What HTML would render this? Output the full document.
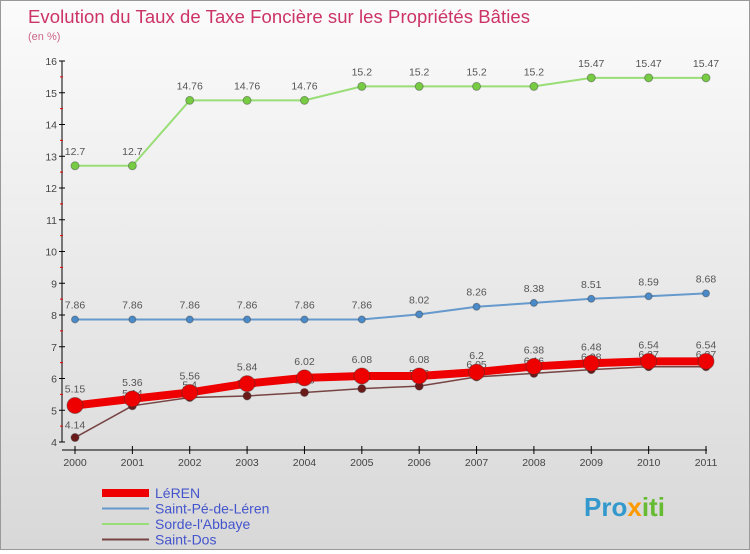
<!DOCTYPE html>
<html><head><meta charset="utf-8"><style>
body{margin:0;width:750px;height:550px;overflow:hidden;font-family:"Liberation Sans",sans-serif}
#wrap{position:relative;width:748px;height:548px;border:1px solid #999;background:linear-gradient(#fbfbfb,#d8d8d8)}
</style></head><body>
<div id="wrap">
<svg id="chart" width="748" height="548">
<text x="27" y="22" font-size="18.5" fill="#cc3366" textLength="502">Evolution du Taux de Taxe Foncière sur les Propriétés Bâties</text>
<text x="27" y="39" font-size="11" fill="#cc6688">(en %)</text>
<g id="axes"></g><g id="series"></g><g id="legend"></g>
<text x="583" y="515" font-size="26" font-weight="bold" fill="#3399cc">Pro<tspan fill="#ff9900">x</tspan><tspan fill="#66bb33">iti</tspan></text>
</svg></div>
<script>
const years=["2000","2001","2002","2003","2004","2005","2006","2007","2008","2009","2010","2011"];
const yTicks=[4,5,6,7,8,9,10,11,12,13,14,15,16];
const leren=[5.15,5.36,5.56,5.84,6.02,6.08,6.08,6.2,6.38,6.48,6.54,6.54];
const saintPe=[7.86,7.86,7.86,7.86,7.86,7.86,8.02,8.26,8.38,8.51,8.59,8.68];
const sorde=[12.7,12.7,14.76,14.76,14.76,15.2,15.2,15.2,15.2,15.47,15.47,15.47];
const saintDos=[4.14,5.14,5.4,5.45,5.56,5.68,5.76,6.05,6.16,6.28,6.37,6.37];
const NS="http://www.w3.org/2000/svg";
const X=i=>74+i*(631/11), Y=v=>441-(v-4)*(381/12);
function mk(t,a,p){const e=document.createElementNS(NS,t);for(const k in a)e.setAttribute(k,a[k]);p.appendChild(e);return e;}
const ax=document.getElementById('axes');
const yl=mk('line',{x1:61,y1:60,x2:61,y2:441,stroke:'#000'},ax);


const xl=mk('line',{x1:61,y1:449,x2:706,y2:449,stroke:'#000'},ax);


yTicks.forEach((v,i)=>{
  mk('line',{x1:58,y1:Y(v),x2:64,y2:Y(v),stroke:'#000'},ax);
  if(i<yTicks.length-1)mk('line',{x1:59,y1:Y(v+0.5),x2:62,y2:Y(v+0.5),stroke:'#e00'},ax);
  const t=mk('text',{x:56,y:Y(v)+4,'font-size':10.5,fill:'#444','text-anchor':'end'},ax);t.textContent=v;
  
  
});
years.forEach((y,i)=>{
  mk('line',{x1:X(i),y1:445,x2:X(i),y2:453,stroke:'#000'},ax);
  const t=mk('text',{x:X(i),y:465,'font-size':10.5,fill:'#444','text-anchor':'middle'},ax);t.textContent=y;
  
  
});
const sg=document.getElementById('series');
function draw(data,col,dot,w,r,name,lblOff){
  const g=mk('g',{},sg);
  
  
  mk('polyline',{points:data.map((v,i)=>X(i)+','+Y(v)).join(' '),fill:'none',stroke:col,'stroke-width':w,'stroke-linejoin':'round'},g);
  data.forEach((v,i)=>{
    const c=mk('circle',{cx:X(i),cy:Y(v),r:r,fill:dot,stroke:'#333','stroke-opacity':0.4},g);
    
    
    const t=mk('text',{x:X(i),y:Y(v)+lblOff,'font-size':10.5,fill:'#555','text-anchor':'middle'},g);t.textContent=v;
  });
}
draw(sorde,'#99dd77','#77cc44',2,4,'series-sorde',-11);
draw(saintPe,'#6699cc','#4a8ac8',2,3.5,'series-saint-pe',-11);
draw(saintDos,'#774444','#6b1a1a',1.5,4,'series-saint-dos',-9);
draw(leren,'#ee0000','#ee0000',8,8,'series-leren',-13);
const lg=document.getElementById('legend');
[["LéREN","#ee0000",8],["Saint-Pé-de-Léren","#6699cc",2],["Sorde-l'Abbaye","#99dd77",2],["Saint-Dos","#774444",2]].forEach((e,i)=>{
  const y=492+i*15.5;
  const l=mk('line',{x1:101,y1:y,x2:148,y2:y,stroke:e[1],'stroke-width':e[2]},lg);
  
  
  const t=mk('text',{x:154,y:y+5,'font-size':14,fill:'#4455cc'},lg);t.textContent=e[0];
  
  
});
</script></body></html>
